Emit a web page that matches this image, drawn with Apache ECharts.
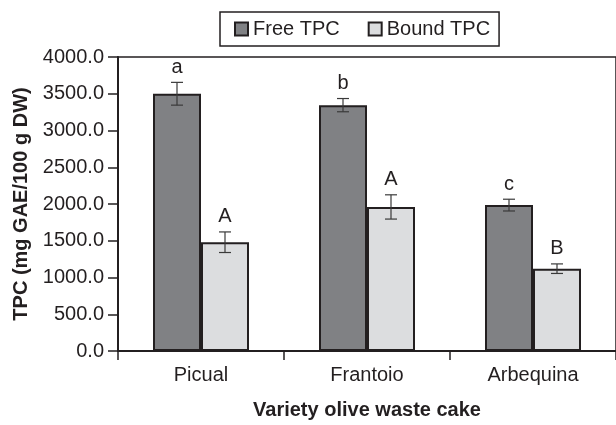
<!DOCTYPE html>
<html><head><meta charset="utf-8">
<script src="https://cdn.jsdelivr.net/npm/echarts@6/dist/echarts.min.js"></script>
<style>html,body{margin:0;padding:0;background:#fff}#c{width:616px;height:425px}</style>
</head><body><div id="c"></div>
<script>
const categories = ['Picual', 'Frantoio', 'Arbequina'];
const freeTPC = [3500, 3345, 1985];
const freeErr = [155, 90, 80];
const freeLetters = ['a', 'b', 'c'];
const boundTPC = [1480, 1960, 1120];
const boundErr = [140, 165, 65];
const boundLetters = ['A', 'A', 'B'];
const yTicks = [0, 500, 1000, 1500, 2000, 2500, 3000, 3500, 4000];

const FONT = 'Liberation Sans, Arial, sans-serif';
const TXT = '#231f20';
const BW = 48;
const FS = 20;

function errSeries(name, vals, errs, letters, offset) {
  return {
    type: 'custom', name: name + ' err', z: 10,
    data: vals.map((v, i) => [i, v, errs[i]]),
    renderItem: function (params, api) {
      const i = api.value(0), v = api.value(1), e = api.value(2);
      const top = api.coord([i, v + e]);
      const bot = api.coord([i, v - e]);
      const x = top[0] + offset;
      const cap = 6;
      const st = { stroke: '#3a3a3a', lineWidth: 1.2 };
      return {
        type: 'group',
        children: [
          { type: 'line', shape: { x1: x, y1: top[1], x2: x, y2: bot[1] }, style: st },
          { type: 'line', shape: { x1: x - cap, y1: top[1], x2: x + cap, y2: top[1] }, style: st },
          { type: 'line', shape: { x1: x - cap, y1: bot[1], x2: x + cap, y2: bot[1] }, style: st },
          { type: 'text', style: { text: letters[params.dataIndex], x: x, y: top[1] - 5,
              textAlign: 'center', textVerticalAlign: 'bottom', font: FS + 'px ' + FONT, fill: TXT } }
        ]
      };
    }
  };
}

const chart = echarts.init(document.getElementById('c'), null, { renderer: 'canvas' });
chart.setOption({
  animation: false,
  backgroundColor: '#ffffff',
  textStyle: { fontFamily: FONT, color: TXT },
  legend: {
    left: 220, top: 12,
    padding: [7, 9, 7, 14],
    borderColor: '#231f20', borderWidth: 1.5,
    itemWidth: 13, itemHeight: 13, itemGap: 28,
    icon: 'rect',
    textStyle: { fontSize: FS, color: TXT, fontFamily: FONT, padding: [0, 0, 0, 0] },
    data: ['Free TPC', 'Bound TPC']
  },
  grid: { left: 118, top: 57, width: 504, height: 303, show: true,
          borderColor: '#231f20', borderWidth: 1.5, backgroundColor: 'transparent' },
  xAxis: {
    type: 'category', data: categories,
    axisLine: { lineStyle: { color: '#231f20', width: 2 } },
    axisTick: { show: true, length: 9, interval: 0, lineStyle: { color: '#231f20', width: 1.5 } },
    axisLabel: { fontSize: FS, color: TXT, margin: 14, fontFamily: FONT },
    name: 'Variety olive waste cake', nameLocation: 'middle', nameGap: 49,
    nameTextStyle: { fontSize: FS, fontWeight: 'bold', color: TXT, fontFamily: FONT }
  },
  yAxis: {
    type: 'value', min: yTicks[0], max: yTicks[yTicks.length - 1], interval: 500,
    splitLine: { show: false },
    axisLine: { show: true, lineStyle: { color: '#231f20', width: 2 } },
    axisTick: { show: true, length: 10, lineStyle: { color: '#231f20', width: 1.5 } },
    axisLabel: { fontSize: FS, color: TXT, margin: 14, fontFamily: FONT,
                 formatter: v => v.toFixed(1) },
    name: 'TPC (mg GAE/100 g DW)', nameLocation: 'middle', nameGap: 86, nameRotate: 90,
    nameTextStyle: { fontSize: FS, fontWeight: 'bold', color: TXT, fontFamily: FONT }
  },
  series: [
    { name: 'Free TPC', type: 'bar', data: freeTPC, barWidth: BW, barGap: '0%',
      itemStyle: { color: '#808184', borderColor: '#231f20', borderWidth: 2 } },
    { name: 'Bound TPC', type: 'bar', data: boundTPC, barWidth: BW, barGap: '0%',
      itemStyle: { color: '#dcdddf', borderColor: '#231f20', borderWidth: 2 } },
    errSeries('Free TPC', freeTPC, freeErr, freeLetters, -BW / 2),
    errSeries('Bound TPC', boundTPC, boundErr, boundLetters, BW / 2)
  ]
});
</script></body></html>
